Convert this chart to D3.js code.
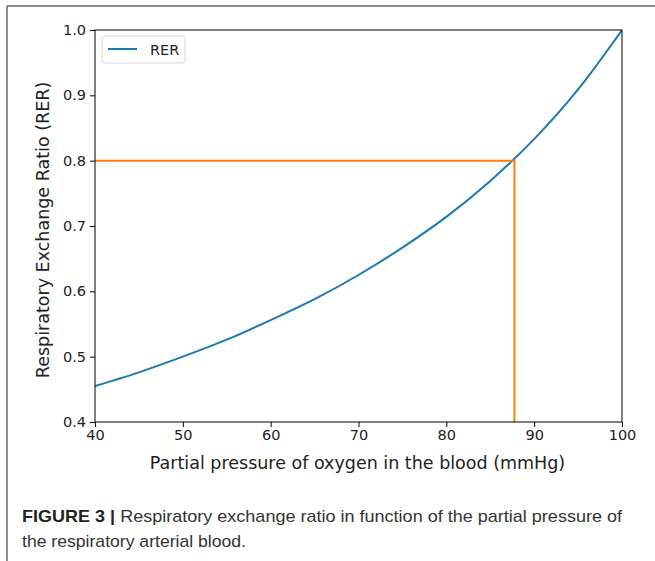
<!DOCTYPE html>
<html>
<head>
<meta charset="utf-8">
<script src="https://cdn.jsdelivr.net/npm/d3@7"></script>
<style>
  html, body { margin: 0; padding: 0; background: #fff; }
  svg { display: block; }
</style>
</head>
<body>
<svg id="fig" width="655" height="561"></svg>
<script>
// Partial pressure of oxygen (mmHg) and the respiratory exchange ratio
const pressure = [40, 45, 50, 55, 60, 65, 70, 75, 80, 85, 90, 95, 100];
const rer      = [0.455, 0.476, 0.500, 0.526, 0.556, 0.588, 0.625, 0.667, 0.714, 0.769, 0.833, 0.909, 1.000];

// Reference marker: RER of 0.8 and the pressure where the curve reaches it
const markerRER = 0.8;
const markerPressure = 87.75;

const xTicks = [40, 50, 60, 70, 80, 90, 100];
const yTicks = [0.4, 0.5, 0.6, 0.7, 0.8, 0.9, 1.0];

const seriesName = "RER";
const xLabel = "Partial pressure of oxygen in the blood (mmHg)";
const yLabel = "Respiratory Exchange Ratio (RER)";
const captionBold = "FIGURE 3 |";
const captionLine1 = " Respiratory exchange ratio in function of the partial pressure of";
const captionLine2 = "the respiratory arterial blood.";

const svg = d3.select("#fig");
const plot = { left: 95, right: 622, top: 30, bottom: 422 };
const blue = "#1f77b4", orange = "#ff7f0e";
const chartFont = "'DejaVu Sans', sans-serif";
const tickFontSize = 14.5;

// Page frame
svg.append("line").attr("x1", 7).attr("x2", 655).attr("y1", 6).attr("y2", 6)
  .attr("stroke", "#666").attr("stroke-width", 1.5);
svg.append("line").attr("x1", 7).attr("x2", 7).attr("y1", 6).attr("y2", 561)
  .attr("stroke", "#666").attr("stroke-width", 1.5);

const x = d3.scaleLinear().domain([40, 100]).range([plot.left, plot.right]);
const y = d3.scaleLinear().domain([0.4, 1.0]).range([plot.bottom, plot.top]);

// Axes
const xAxis = svg.append("g")
  .attr("transform", `translate(0,${plot.bottom})`)
  .call(d3.axisBottom(x).tickValues(xTicks).tickFormat(d3.format("d")).tickSize(5).tickPadding(3));
const yAxis = svg.append("g")
  .attr("transform", `translate(${plot.left},0)`)
  .call(d3.axisLeft(y).tickValues(yTicks).tickFormat(d3.format(".1f")).tickSize(5).tickPadding(4));
[xAxis, yAxis].forEach(g => {
  g.attr("font-size", null).attr("font-family", null);
  g.select(".domain").remove();
  g.selectAll(".tick line").attr("stroke", "#000").attr("stroke-width", 1);
  g.selectAll(".tick text")
    .style("font-family", chartFont).style("font-size", tickFontSize + "px").attr("fill", "#222");
});

// Curve
const data = pressure.map((p, i) => ({ p, r: rer[i] }));
const line = d3.line().x(d => x(d.p)).y(d => y(d.r)).curve(d3.curveMonotoneX);

svg.append("clipPath").attr("id", "plotclip")
  .append("rect").attr("x", plot.left).attr("y", plot.top - 2)
  .attr("width", plot.right - plot.left).attr("height", plot.bottom - plot.top + 2);

svg.append("path").datum(data)
  .attr("d", line).attr("fill", "none")
  .attr("stroke", blue).attr("stroke-width", 2)
  .attr("clip-path", "url(#plotclip)");

// Orange guide lines at RER = 0.8
svg.append("path")
  .attr("d", d3.line()([
    [x(40), y(markerRER)],
    [x(markerPressure), y(markerRER)],
    [x(markerPressure), y(0.4)]
  ]))
  .attr("fill", "none").attr("stroke", orange).attr("stroke-width", 2);

// Spines
svg.append("rect")
  .attr("x", plot.left).attr("y", plot.top)
  .attr("width", plot.right - plot.left).attr("height", plot.bottom - plot.top)
  .attr("fill", "none").attr("stroke", "#000").attr("stroke-width", 1);

// Legend
const legend = svg.append("g").attr("transform", "translate(102,36)");
legend.append("rect").attr("width", 83).attr("height", 27).attr("rx", 3)
  .attr("fill", "#fff").attr("stroke", "#d8d8d8").attr("stroke-width", 1);
legend.append("line").attr("x1", 6).attr("x2", 35).attr("y1", 13).attr("y2", 13)
  .attr("stroke", blue).attr("stroke-width", 2);
legend.append("text").attr("x", 48).attr("y", 18.5)
  .style("font-family", chartFont).style("font-size", tickFontSize + "px").attr("fill", "#222")
  .text(seriesName);

// Axis labels
svg.append("text")
  .attr("x", (plot.left + plot.right) / 2 - 1).attr("y", 469)
  .attr("text-anchor", "middle")
  .style("font-family", chartFont).style("font-size", "17.5px").attr("fill", "#222")
  .text(xLabel);
svg.append("text")
  .attr("transform", `translate(49,${(plot.top + plot.bottom) / 2 + 4}) rotate(-90)`)
  .attr("text-anchor", "middle")
  .style("font-family", chartFont).style("font-size", "17.5px").attr("fill", "#222")
  .text(yLabel);

// Caption
const capFont = "'Liberation Sans Narrow', 'Liberation Sans', Arial, sans-serif";
const cap1 = svg.append("text").attr("x", 22).attr("y", 522)
  .style("font-family", capFont).style("font-size", "17px").attr("fill", "#333")
  .attr("textLength", 600).attr("lengthAdjust", "spacingAndGlyphs");
cap1.append("tspan").attr("font-weight", "bold").attr("fill", "#222").text(captionBold);
cap1.append("tspan").text(captionLine1);
svg.append("text").attr("x", 22).attr("y", 547)
  .style("font-family", capFont).style("font-size", "17px").attr("fill", "#333")
  .attr("textLength", 224).attr("lengthAdjust", "spacingAndGlyphs")
  .text(captionLine2);
</script>
</body>
</html>
